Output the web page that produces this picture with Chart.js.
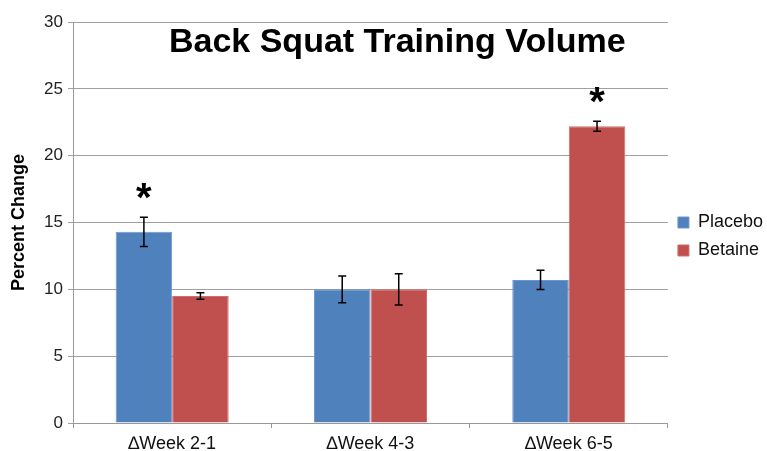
<!DOCTYPE html>
<html>
<head>
<meta charset="utf-8">
<script src="https://cdn.jsdelivr.net/npm/chart.js@4/dist/chart.umd.min.js"></script>
<style>
  body { margin: 0; background: #fff; }
  #wrap { width: 767px; height: 451px; }
</style>
</head>
<body>
<div id="wrap"><canvas id="myChart"></canvas></div>
<script>
// Data
const categories = ["\u2206Week 2-1", "\u2206Week 4-3", "\u2206Week 6-5"];
const placebo = [14.3, 10.0, 10.7];
const betaine = [9.5, 10.0, 22.2];
const placeboErr = [1.1, 1.0, 0.72];
const betaineErr = [0.25, 1.17, 0.38];
// significance marks drawn above the error bars
const placeboMarks = ["*", "", ""];
const betaineMarks = ["", "", "*"];
const chartTitle = "Back Squat Training Volume";

Chart.defaults.font.family = "'Liberation Sans', Arial, sans-serif";
Chart.defaults.color = "#111";

// error bars + asterisks
const errorBars = {
  id: "errorBars",
  afterDatasetsDraw(chart) {
    const ctx = chart.ctx;
    const yScale = chart.scales.y;
    ctx.save();
    chart.data.datasets.forEach((ds, i) => {
      const meta = chart.getDatasetMeta(i);
      meta.data.forEach((bar, j) => {
        const v = ds.data[j];
        const e = ds.errors[j];
        const top = yScale.getPixelForValue(v + e);
        const bottom = yScale.getPixelForValue(v - e);
        ctx.strokeStyle = "#000";
        ctx.lineWidth = 1.5;
        ctx.beginPath();
        ctx.moveTo(bar.x, top);
        ctx.lineTo(bar.x, bottom);
        ctx.moveTo(bar.x - 4, top);
        ctx.lineTo(bar.x + 4, top);
        ctx.moveTo(bar.x - 4, bottom);
        ctx.lineTo(bar.x + 4, bottom);
        ctx.stroke();
        if (ds.marks[j]) {
          ctx.fillStyle = "#000";
          ctx.font = "bold 40px 'Liberation Sans', Arial, sans-serif";
          ctx.textAlign = "center";
          ctx.textBaseline = "alphabetic";
          ctx.fillText(ds.marks[j], bar.x, top - 6);
        }
      });
    });
    ctx.restore();
  }
};

// title sits inside the plot area
const innerTitle = {
  id: "innerTitle",
  afterDraw(chart) {
    const ctx = chart.ctx;
    const area = chart.chartArea;
    ctx.save();
    ctx.fillStyle = "#000";
    ctx.font = "bold 34px 'Liberation Sans', Arial, sans-serif";
    ctx.textAlign = "center";
    ctx.textBaseline = "alphabetic";
    ctx.fillText(chartTitle, area.left + area.width * 0.545, area.top + 30);
    ctx.restore();
  }
};

const data = {
  labels: categories,
  datasets: [
    {
      label: "Placebo",
      data: placebo,
      errors: placeboErr,
      marks: placeboMarks,
      backgroundColor: "#4F81BD",
      borderColor: "#6d97cc",
      borderWidth: 1,
    },
    {
      label: "Betaine",
      data: betaine,
      errors: betaineErr,
      marks: betaineMarks,
      backgroundColor: "#C0504D",
      borderColor: "#d06c69",
      borderWidth: 1,
    },
  ],
};

const config = {
  type: "bar",
  data: data,
  plugins: [errorBars, innerTitle],
  options: {
    responsive: true,
    maintainAspectRatio: false,
    animation: false,
    categoryPercentage: 0.57,
    barPercentage: 1.0,
    layout: { padding: { top: 22, left: 0, right: -6, bottom: 0 } },
    plugins: {
      legend: {
        position: "right",
        labels: {
          boxWidth: 11,
          boxHeight: 11,
          padding: 10,
          color: "#111",
          font: { size: 18 },
        },
      },
      tooltip: { enabled: false },
    },
    scales: {
      x: {
        grid: {
          drawOnChartArea: false,
          color: "#999",
          tickLength: 5,
        },
        border: { color: "#999" },
        ticks: { font: { size: 18 }, color: "#111", padding: 5 },
        afterFit: (scale) => { scale.height = 28; },
      },
      y: {
        min: 0,
        max: 30,
        ticks: { stepSize: 5, font: { size: 17 }, color: "#222", padding: 5 },
        grid: { color: "#a0a0a0", tickLength: 5 },
        border: { color: "#999" },
        title: {
          display: true,
          text: "Percent Change",
          font: { size: 18, weight: "bold" },
          color: "#000",
          padding: { top: 8, bottom: 0 },
        },
        afterFit: (scale) => { scale.width = 73; },
      },
    },
  },
};

const ctx = document.getElementById("myChart").getContext("2d");
const myChart = new Chart(ctx, config);
</script>
</body>
</html>
